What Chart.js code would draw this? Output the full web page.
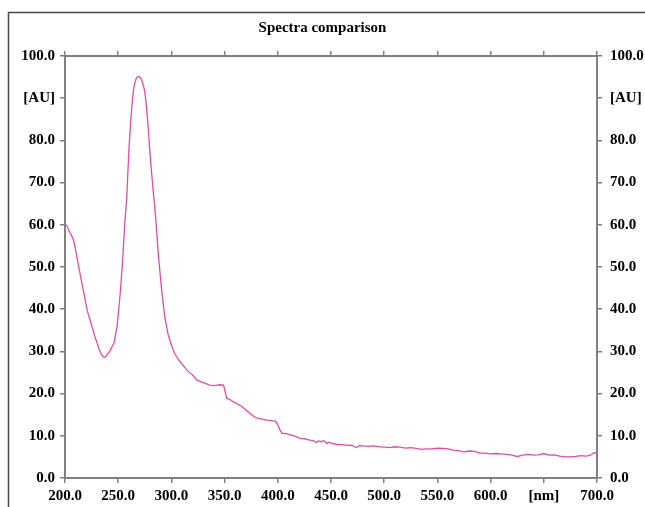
<!DOCTYPE html>
<html>
<head>
<meta charset="utf-8">
<title>Spectra comparison</title>
<script src="https://cdn.jsdelivr.net/npm/chart.js@4/dist/chart.umd.min.js"></script>
<style>
  html, body { margin: 0; padding: 0; background: #fff; }
  #spectra { display: block; }
</style>
</head>
<body>
<canvas id="spectra" width="645" height="507"></canvas>
<script>
// wavelength [nm] and absorbance [AU]
const wavelengths = [
  200, 202, 204, 206, 208, 210, 212, 214, 216, 218, 221, 225, 228, 232, 234, 236, 238, 239, 242, 246, 249,
  252, 254, 256, 258, 260, 262, 263, 264, 265, 266, 267, 268, 269, 270, 271, 272, 273, 274, 275, 276, 277,
  278, 281, 285, 288, 291, 294, 297, 300, 303, 308, 312, 316, 320, 324, 328, 332, 336, 341, 345, 349, 350,
  352, 355, 358, 362, 366, 370, 374, 378, 382, 386, 390, 394, 398, 400, 402,
  404, 408, 412, 416, 421, 425, 430, 433, 436, 438, 441, 443, 446, 448, 451,
  455, 460, 465, 470, 474, 477, 480, 485, 490, 496, 500, 505, 510, 515, 520,
  525, 530, 535, 540, 545, 550, 555, 560, 565, 570, 575, 580, 585, 590, 595,
  600, 605, 610, 615, 620, 625, 630, 635, 640, 645, 650, 655, 660, 665, 670,
  675, 680, 685, 690, 694, 697, 700,
];
const absorbance = [
  60.3, 59.6, 58.4, 57.6, 56.4, 54.0, 51.2, 48.6, 46.0, 43.5, 39.6, 36.2, 33.6, 30.6, 29.4, 28.7, 28.6, 29.0, 30.0, 32.0, 36.0,
  44.0, 51.0, 59.6, 66.3, 77.5, 85.5, 88.5, 91.2, 92.9, 94.0, 94.7, 95.0, 95.1, 95.1, 94.8, 94.3, 93.6, 92.7, 91.5, 89.5, 86.8,
  83.6, 73.4, 62.3, 52.1, 44.1, 37.8, 33.9, 31.5, 29.5, 27.6, 26.4, 25.2, 24.4, 23.2, 22.8, 22.4, 22.0, 21.9, 22.1, 22.0, 21.0,
  18.9, 18.6, 18.1, 17.6, 17.0, 16.1, 15.3, 14.5, 14.1, 13.9, 13.7, 13.6, 13.4, 12.6, 11.4,
  10.6, 10.5, 10.2, 9.9, 9.4, 9.3, 9.0, 8.9, 8.4, 8.8, 8.6, 8.9, 8.2, 8.5, 8.2,
  8.0, 7.9, 7.8, 7.7, 7.2, 7.7, 7.6, 7.5, 7.6, 7.4, 7.3, 7.2, 7.4, 7.3, 7.1,
  7.2, 7.0, 6.8, 6.9, 6.9, 7.1, 7.0, 6.9, 6.6, 6.5, 6.2, 6.4, 6.3, 5.9, 5.9,
  5.7, 5.8, 5.7, 5.6, 5.4, 5.1, 5.4, 5.6, 5.4, 5.5, 5.8, 5.4, 5.5, 5.2, 5.0,
  5.0, 5.1, 5.3, 5.2, 5.4, 6.0, 5.8,
];

// axis ranges; one tick label on each side is replaced by the unit
const xRange = { min: 200, max: 700, step: 50, unitAt: 650, unit: '[nm]' };
const yRange = { min: 0, max: 100, step: 10, unitAt: 90, unit: '[AU]' };

const SERIF = "'Liberation Serif', 'Times New Roman', serif";
const AXIS_GRAY = '#808080';
const TRACE_COLOR = '#e44ca3';

function fixedSize(prop, size) {
  return (scale) => { scale[prop] = size; };
}

function tickText(range) {
  return (value) => (value === range.unitAt ? range.unit : Number(value).toFixed(1));
}

function axisBase(range) {
  return {
    type: 'linear',
    min: range.min,
    max: range.max,
    grid: {
      drawOnChartArea: false,
      drawTicks: true,
      tickLength: 5,
      color: AXIS_GRAY,
      lineWidth: 1.5,
    },
    border: { display: true, color: AXIS_GRAY, width: 2 },
    ticks: {
      stepSize: range.step,
      autoSkip: false,
      maxRotation: 0,
      color: '#000',
      font: { family: SERIF, size: 15, weight: 'bold' },
      callback: tickText(range),
    },
  };
}

// thin frame of the original window (left and top edges only)
const framePlugin = {
  id: 'frame',
  beforeDraw(chart) {
    const { ctx, width, height } = chart;
    ctx.save();
    ctx.strokeStyle = '#4a4a4a';
    ctx.lineWidth = 1.5;
    ctx.beginPath();
    ctx.moveTo(8.5, height);
    ctx.lineTo(8.5, 12.5);
    ctx.lineTo(width, 12.5);
    ctx.stroke();
    ctx.restore();
  },
};

const points = wavelengths.map((nm, i) => ({ x: nm, y: absorbance[i] }));

const xBottom = axisBase(xRange);
xBottom.position = 'bottom';
xBottom.ticks.padding = 4;
xBottom.afterFit = fixedSize('height', 29);

const xTop = axisBase(xRange);
xTop.position = 'top';
xTop.ticks.display = false;
xTop.afterFit = fixedSize('height', 5);

const yLeft = axisBase(yRange);
yLeft.position = 'left';
yLeft.ticks.padding = 5;
yLeft.afterFit = fixedSize('width', 65);

const yRight = axisBase(yRange);
yRight.position = 'right';
yRight.ticks.padding = 8;
yRight.afterFit = fixedSize('width', 48);

new Chart(document.getElementById('spectra'), {
  type: 'line',
  data: {
    datasets: [{
      label: 'Spectrum',
      data: points,
      borderColor: TRACE_COLOR,
      borderWidth: 1.3,
      pointRadius: 0,
      tension: 0,
      fill: false,
    }],
  },
  options: {
    responsive: false,
    animation: false,
    devicePixelRatio: 1,
    layout: { padding: 0 },
    plugins: {
      legend: { display: false },
      tooltip: { enabled: false },
      title: {
        display: true,
        text: 'Spectra comparison',
        color: '#000',
        font: { family: SERIF, size: 15, weight: 'bold' },
        padding: { top: 19, bottom: 14 },
      },
    },
    scales: { x: xBottom, x2: xTop, y: yLeft, y2: yRight },
  },
  plugins: [framePlugin],
});
</script>
</body>
</html>
